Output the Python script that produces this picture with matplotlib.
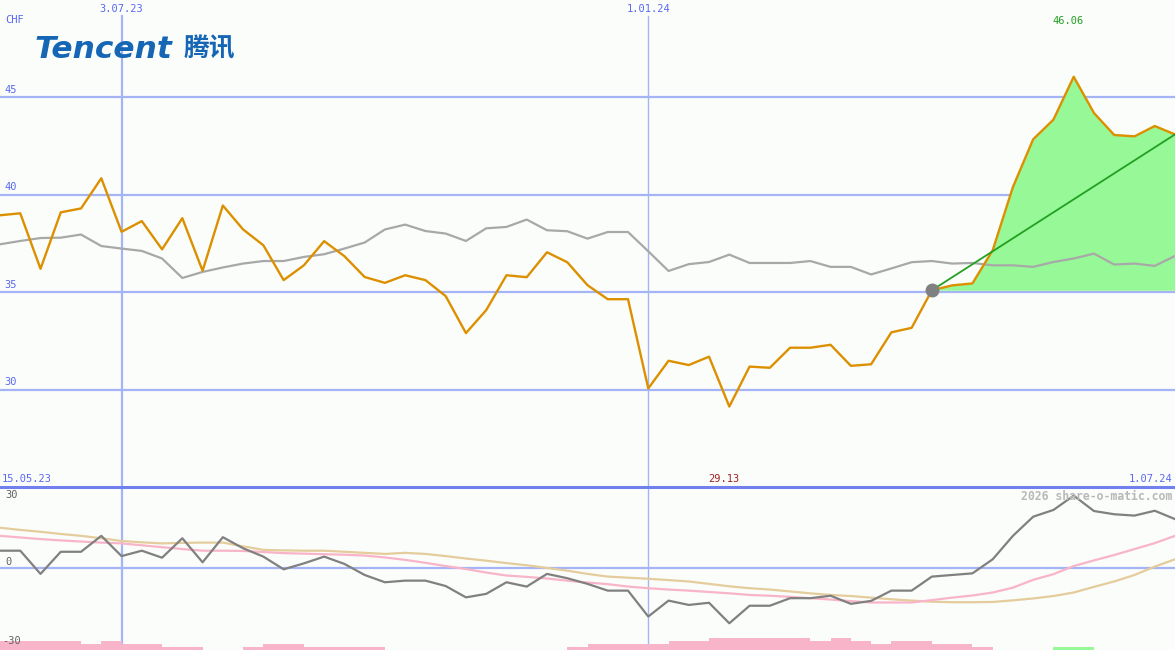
import numpy as np
import pandas as pd
import matplotlib
matplotlib.use("Agg")
import matplotlib.pyplot as plt
import matplotlib.transforms as mtransforms

W, H = 1175, 650
SPLIT = 487  # pixel row where the lower panel starts

# weekly closes, 22.05.23 .. 1.07.24
dates = pd.date_range("2023-05-22", "2024-07-01", freq="7D")

price = [38.95, 39.05, 36.20, 39.10, 39.30, 40.85, 38.10, 38.65, 37.20, 38.80,
         36.10, 39.45, 38.22, 37.41, 35.62, 36.38, 37.62, 36.85, 35.78, 35.48,
         35.87, 35.62, 34.80, 32.90, 34.08, 35.87, 35.77, 37.05, 36.54, 35.36,
         34.64, 34.64, 30.06, 31.48, 31.26, 31.69, 29.13, 31.18, 31.12, 32.15,
         32.15, 32.30, 31.22, 31.30, 32.94, 33.17, 35.10, 35.35, 35.45, 37.15,
         40.40, 42.85, 43.86, 46.06, 44.20, 43.07, 43.00, 43.53, 43.10]

average = [37.46, 37.63, 37.78, 37.80, 37.96, 37.37, 37.24, 37.12, 36.73, 35.73,
           36.04, 36.27, 36.47, 36.60, 36.60, 36.81, 36.95, 37.24, 37.55, 38.22,
           38.47, 38.14, 38.01, 37.63, 38.28, 38.35, 38.73, 38.18, 38.13, 37.75,
           38.09, 38.09, 37.10, 36.09, 36.44, 36.55, 36.93, 36.50, 36.50, 36.50,
           36.60, 36.30, 36.30, 35.91, 36.22, 36.54, 36.60, 36.47, 36.50, 36.38,
           36.38, 36.30, 36.55, 36.73, 36.98, 36.42, 36.47, 36.35, 36.86]

momentum = [6.4, 6.4, -2.2, 6.0, 6.0, 11.9, 4.4, 6.4, 3.8, 11.0,
            2.1, 11.4, 7.3, 4.2, -0.5, 1.7, 4.2, 1.5, -2.6, -5.3,
            -4.7, -4.7, -6.7, -10.9, -9.6, -5.3, -6.9, -2.2, -3.8, -5.9,
            -8.4, -8.4, -18.0, -12.1, -13.7, -12.9, -20.5, -14.0, -14.0, -11.2,
            -11.2, -10.3, -13.3, -12.2, -8.4, -8.4, -3.2, -2.6, -2.0, 3.2,
            11.9, 19.0, 21.5, 26.8, 21.1, 19.9, 19.4, 21.2, 18.1]

signal_fast = [11.9, 11.3, 10.7, 10.2, 9.8, 9.4, 9.1, 8.4, 7.7, 7.0,
               6.4, 6.4, 6.3, 5.9, 5.5, 5.3, 5.1, 4.9, 4.6, 3.9,
               3.0, 1.9, 0.7, -0.4, -1.7, -2.8, -3.3, -3.9, -4.7, -5.4,
               -6.0, -6.9, -7.5, -8.0, -8.4, -8.9, -9.4, -10.0, -10.3, -10.7,
               -11.2, -11.7, -12.3, -12.8, -12.8, -12.8, -11.9, -11.0, -10.2, -9.1,
               -7.3, -4.4, -2.3, 0.7, 2.8, 4.8, 7.0, 9.2, 11.9]

signal_slow = [14.9, 14.1, 13.4, 12.6, 11.9, 11.0, 10.0, 9.5, 9.1, 9.3,
               9.4, 9.4, 8.0, 6.7, 6.5, 6.4, 6.4, 6.0, 5.6, 5.2,
               5.6, 5.2, 4.4, 3.5, 2.7, 1.8, 1.0, 0.0, -1.0, -2.2,
               -3.2, -3.6, -4.0, -4.5, -5.0, -5.9, -6.8, -7.5, -8.0, -8.7,
               -9.4, -10.0, -10.4, -11.0, -11.6, -12.1, -12.5, -12.7, -12.7, -12.6,
               -12.0, -11.3, -10.4, -9.1, -7.0, -5.0, -2.6, 0.5, 3.2]

histogram = [-3.3, -3.3, -3.3, -3.3, -2.2, -3.3, -2.2, -2.2, -1.1, -1.1,
             0.0, 0.0, -1.1, -2.2, -2.2, -1.1, -1.1, -1.1, -1.1, 0.0,
             0.0, 0.0, 0.0, 0.0, 0.0, 0.0, 0.0, 0.0, -1.1, -2.2,
             -2.2, -2.2, -2.2, -3.3, -3.3, -4.4, -4.4, -4.4, -4.4, -4.4,
             -3.3, -4.4, -3.3, -2.2, -3.3, -3.3, -2.2, -2.2, -1.1, 0.0,
             0.0, 0.0, 1.1, 1.1, 0.0, 0.0, 0.0, 0.0, 0.0]

price_grid = [30, 35, 40, 45]
osc_ticks = [30, 0, -30]
marker_dates = pd.to_datetime(["2023-07-03", "2024-01-01"])
marker_labels = ["3.07.23", "1.01.24"]
start_label, end_label = "15.05.23", "1.07.24"
signal_idx = 46  # start of the highlighted rally

BG = "#fbfdfb"
GRID = "#a4b4f4"
LABEL = "#5a68f0"
MONO = "DejaVu Sans Mono"

price = np.array(price)
histogram = np.array(histogram)

fig = plt.figure(figsize=(W / 100, H / 100), dpi=100, facecolor=BG)
ax1 = fig.add_axes([0, (H - SPLIT) / H, 1, SPLIT / H])
ax2 = fig.add_axes([0, 0, 1, (H - SPLIT) / H])
for ax in (ax1, ax2):
    ax.set_axis_off()
    ax.set_xlim(dates[0], dates[-1])
ax1.set_ylim(25, 50)
ax2.set_ylim(-30.4, 30)

# --- upper panel ---
for v in price_grid:
    ax1.axhline(v, color=GRID, lw=1.6, zorder=1)
    ax1.text(0.004, v + 0.12, str(v), transform=ax1.get_yaxis_transform(),
             color=LABEL, fontsize=7.5, family=MONO, va="bottom", ha="left")
for d, w in zip(marker_dates, [1.6, 1.0]):
    ax1.axvline(d, ymin=0, ymax=1 - 16 / SPLIT, color=GRID, lw=w, zorder=1)
    ax2.axvline(d, color=GRID, lw=w, zorder=1)

top = mtransforms.blended_transform_factory(ax1.transData, fig.transFigure)
for d, lab in zip(marker_dates, marker_labels):
    ax1.text(d, 1 - 9 / H, lab, transform=top, color=LABEL, fontsize=7.5,
             family=MONO, ha="center", va="center")

ax1.fill_between(dates[signal_idx:], price[signal_idx:], price[signal_idx],
                 color="#96f896", lw=0, zorder=2)
ax1.plot(dates, average, color="#a8a8a8", lw=1.6, zorder=3)
ax1.plot(dates, price, color="#dc9000", lw=1.7, zorder=4)
ax1.plot([dates[signal_idx], dates[-1]], [price[signal_idx], price[-1]],
         color="#22a022", lw=1.3, zorder=5)
ax1.plot(dates[signal_idx], price[signal_idx], "o", color="#808080", ms=9, zorder=6)

imax, imin = int(price.argmax()), int(price.argmin())
ax1.text(dates[imax] - pd.Timedelta(days=2), 1 - 21 / H, f"{price[imax]:.2f}",
         transform=top, color="#22a022", fontsize=7.5, family=MONO,
         ha="center", va="center")
ax1.text(dates[imin] - pd.Timedelta(days=2), 1 - 479 / H, f"{price[imin]:.2f}",
         transform=top, color="#a02020", fontsize=7.5, family=MONO,
         ha="center", va="center")

fig.text(5 / W, 1 - 20 / H, "CHF", color=LABEL, fontsize=7.5, family=MONO, va="center")
fig.text(2 / W, 1 - 479 / H, start_label, color=LABEL, fontsize=7.5, family=MONO, va="center")
fig.text(1172 / W, 1 - 479 / H, end_label, color=LABEL, fontsize=7.5, family=MONO,
         va="center", ha="right")

# logo
fig.text(35 / W, 1 - 49 / H, "Tencent", color="#1566b4", fontsize=22.5,
         family="DejaVu Sans", weight="bold", style="oblique", va="center")
fig.text(184 / W, 1 - 49 / H, "腾讯", color="#1566b4", fontsize=18.5,
         family=["Noto Sans CJK SC", "DejaVu Sans"], weight="bold", va="center")

# --- lower panel ---
ax2.axhline(30, color="#7080ec", lw=2.2, zorder=1, clip_on=False)
ax2.axhline(0, color=GRID, lw=1.6, zorder=1)
bar_colors = ["#96f896" if v > 0 else "#f8b4c8" for v in histogram]
ax2.bar(dates, np.abs(histogram), bottom=-30.4, width=7, align="edge",
        color=bar_colors, lw=0, zorder=2)
ax2.plot(dates, signal_slow, color="#e4cc9c", lw=1.6, zorder=3)
ax2.plot(dates, signal_fast, color="#f8b4c8", lw=1.6, zorder=3)
ax2.plot(dates, momentum, color="#808080", lw=1.6, zorder=4)

for v, y in zip(osc_ticks, [495, 562, 641]):
    fig.text((5 if v >= 0 else 2) / W, 1 - y / H, str(v), color="#606060",
             fontsize=7.5, family=MONO, va="center")
fig.text(1172 / W, 1 - 496 / H, "2026 share-o-matic.com", color="#b8b8b8",
         fontsize=8.3, family=MONO, weight="bold", va="center", ha="right")

fig.savefig("out.png", dpi=100, facecolor=BG)
